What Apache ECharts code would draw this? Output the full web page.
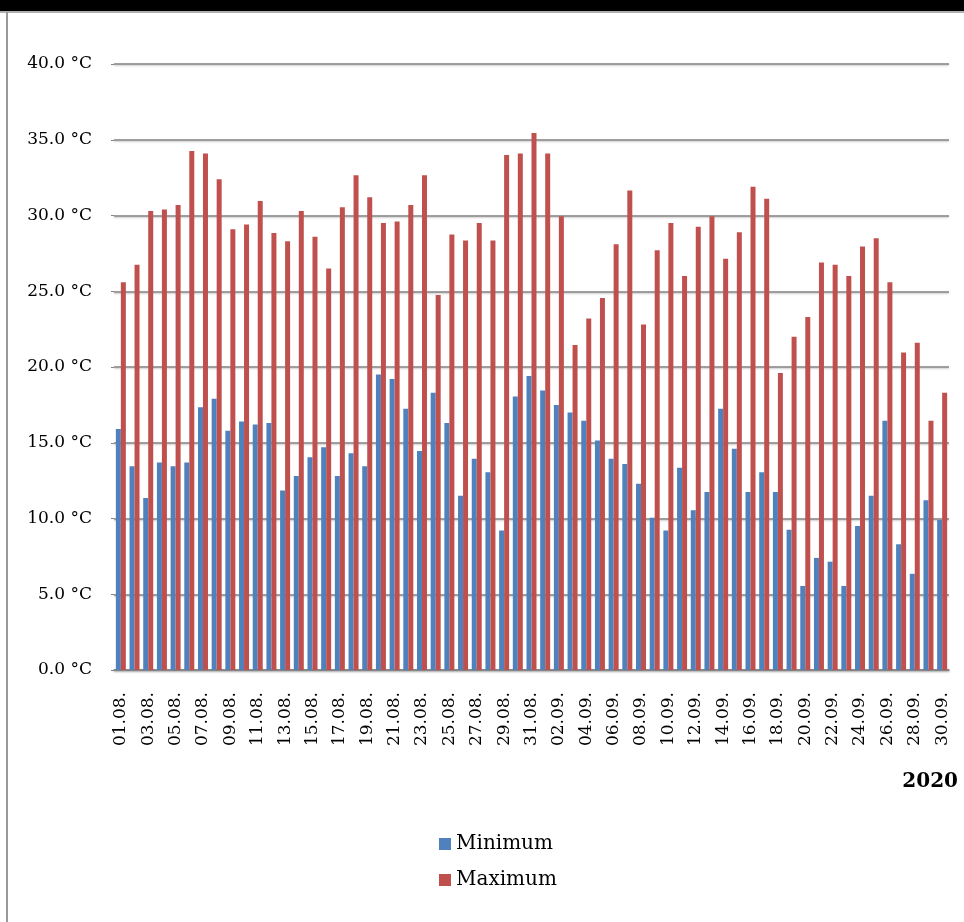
<!DOCTYPE html>
<html>
<head>
<meta charset="utf-8">
<script src="https://cdn.jsdelivr.net/npm/echarts@6/dist/echarts.min.js"></script>
<style>
  html, body { margin: 0; padding: 0; background: #fff; }
  #chart { width: 964px; height: 922px; }
</style>
</head>
<body>
<div id="chart"></div>
<script>
// Daily air temperature, August – September 2020
const days = [
  '01.08.', '02.08.', '03.08.', '04.08.', '05.08.', '06.08.', '07.08.', '08.08.', '09.08.', '10.08.',
  '11.08.', '12.08.', '13.08.', '14.08.', '15.08.', '16.08.', '17.08.', '18.08.', '19.08.', '20.08.',
  '21.08.', '22.08.', '23.08.', '24.08.', '25.08.', '26.08.', '27.08.', '28.08.', '29.08.', '30.08.',
  '31.08.', '01.09.', '02.09.', '03.09.', '04.09.', '05.09.', '06.09.', '07.09.', '08.09.', '09.09.',
  '10.09.', '11.09.', '12.09.', '13.09.', '14.09.', '15.09.', '16.09.', '17.09.', '18.09.', '19.09.',
  '20.09.', '21.09.', '22.09.', '23.09.', '24.09.', '25.09.', '26.09.', '27.09.', '28.09.', '29.09.',
  '30.09.'
];

const minimum = [
  15.9, 13.45, 11.35, 13.7, 13.45, 13.7, 17.35, 17.9, 15.8, 16.4,
  16.2, 16.3, 11.85, 12.8, 14.05, 14.7, 12.8, 14.3, 13.45, 19.5,
  19.2, 17.25, 14.45, 18.3, 16.3, 11.5, 13.95, 13.05, 9.2, 18.05,
  19.4, 18.45, 17.5, 17.0, 16.45, 15.15, 13.95, 13.6, 12.3, 10.05,
  9.2, 13.35, 10.55, 11.75, 17.25, 14.6, 11.75, 13.05, 11.75, 9.25,
  5.55, 7.4, 7.15, 5.55, 9.5, 11.5, 16.45, 8.3, 6.35, 11.2,
  9.9
];

const maximum = [
  25.6, 26.75, 30.3, 30.4, 30.7, 34.25, 34.1, 32.4, 29.1, 29.4,
  30.95, 28.85, 28.3, 30.3, 28.6, 26.5, 30.55, 32.65, 31.2, 29.5,
  29.6, 30.7, 32.65, 24.75, 28.75, 28.35, 29.5, 28.35, 34.0, 34.1,
  35.45, 34.1, 29.95, 21.45, 23.2, 24.55, 28.1, 31.65, 22.8, 27.7,
  29.5, 26.0, 29.25, 29.95, 27.15, 28.9, 31.9, 31.1, 19.6, 22.0,
  23.3, 26.9, 26.75, 26.0, 27.95, 28.5, 25.6, 20.95, 21.6, 16.45,
  18.3
];

const seriesNames = ['Minimum', 'Maximum'];
const yearLabel = '2020';

const FONT = '"DejaVu Serif", "Liberation Serif", serif';
const GRID_LINE = {
  color: '#858585',
  width: 1.6,
  shadowColor: 'rgba(0,0,0,0.25)',
  shadowBlur: 2,
  shadowOffsetY: 1
};

const chart = echarts.init(document.getElementById('chart'), null, { renderer: 'canvas' });

chart.setOption({
  backgroundColor: '#ffffff',
  animation: false,
  grid: { left: 114, right: 15, top: 64, bottom: 252, containLabel: false },
  legend: {
    orient: 'vertical',
    left: 434,
    top: 829,
    itemWidth: 12,
    itemHeight: 12,
    itemGap: 16,
    icon: 'rect',
    textStyle: { fontFamily: FONT, fontSize: 20, color: '#000' },
    data: seriesNames
  },
  xAxis: {
    type: 'category',
    data: days,
    axisLine: { show: true, lineStyle: GRID_LINE },
    axisTick: { show: false },
    axisLabel: {
      interval: 1,
      rotate: 90,
      margin: 22,
      fontFamily: FONT,
      fontSize: 17,
      color: '#000'
    }
  },
  yAxis: {
    type: 'value',
    min: 0,
    max: 40,
    interval: 5,
    axisLine: { show: false },
    axisTick: { show: true, length: 3, lineStyle: { color: '#858585' } },
    splitLine: { show: true, lineStyle: GRID_LINE },
    axisLabel: {
      margin: 22,
      fontFamily: FONT,
      fontSize: 17,
      color: '#000',
      formatter: v => v.toFixed(1) + ' °C'
    }
  },
  series: [
    {
      name: seriesNames[0],
      type: 'bar',
      data: minimum,
      barWidth: 5,
      barGap: '0%',
      itemStyle: { color: '#4F81BD' }
    },
    {
      name: seriesNames[1],
      type: 'bar',
      data: maximum,
      barWidth: 5,
      barGap: '0%',
      itemStyle: { color: '#C0504D' }
    }
  ],
  graphic: [
    // heavy rule across the top of the page
    { type: 'rect', left: 0, top: 0, shape: { width: 964, height: 11 }, style: { fill: '#000' } },
    { type: 'rect', left: 0, top: 11, shape: { width: 964, height: 2 }, style: { fill: '#b0b0b0' } },
    // frame edge on the left
    { type: 'rect', left: 6, top: 12, shape: { width: 2, height: 910 }, style: { fill: '#9a9a9a' } },
    {
      type: 'text',
      right: 6,
      top: 772,
      style: {
        text: yearLabel,
        font: 'bold 20px ' + FONT,
        fill: '#000'
      }
    }
  ]
});
</script>
</body>
</html>
